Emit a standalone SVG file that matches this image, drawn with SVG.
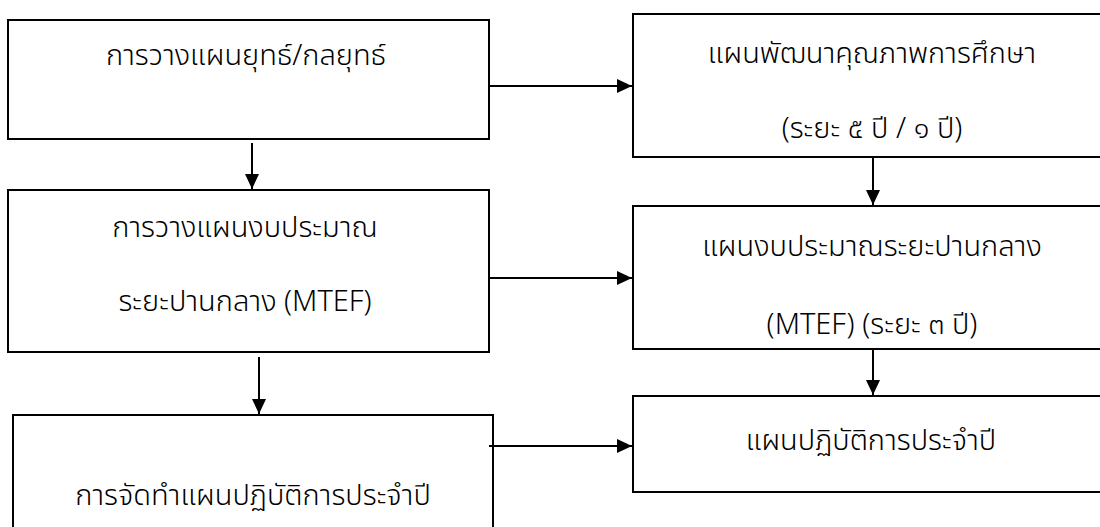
<svg xmlns="http://www.w3.org/2000/svg" width="1100" height="527" viewBox="0 0 1100 527">
<style>
.box{fill:#fff;stroke:#000;stroke-width:2}
.t{font-family:"Noto Sans Thai","Noto Sans","DejaVu Sans",sans-serif;font-size:29px;font-weight:300;fill:#000;text-anchor:middle}
.c{fill:none;stroke:#000;stroke-width:2}
</style>
<defs>
<marker id="ah" markerUnits="userSpaceOnUse" markerWidth="16" markerHeight="15" refX="15" refY="7" orient="auto">
<path d="M0,0 L15,7 L0,14 z" fill="#000"/>
</marker>
</defs>
<rect width="1100" height="527" fill="#fff"/>
<g id="n1"><rect class="box" x="8" y="20" width="481" height="119"/>
<text class="t" x="246" y="65">การวางแผนยุทธ์/กลยุทธ์</text></g>
<g id="n2"><rect class="box" x="633" y="14" width="480" height="143"/>
<text class="t" x="872" y="63">แผนพัฒนาคุณภาพการศึกษา</text>
<text class="t" x="872" y="138">(ระยะ ๕ ปี / ๑ ปี)</text></g>
<g id="n3"><rect class="box" x="8" y="190" width="481" height="162"/>
<text class="t" x="245" y="237">การวางแผนงบประมาณ</text>
<text class="t" x="245" y="311">ระยะปานกลาง (MTEF)</text></g>
<g id="n4"><rect class="box" x="633" y="206" width="480" height="143"/>
<text class="t" x="872" y="256">แผนงบประมาณระยะปานกลาง</text>
<text class="t" x="872" y="334">(MTEF) (ระยะ ๓ ปี)</text></g>
<g id="n5"><rect class="box" x="13" y="415" width="480" height="130"/>
<text class="t" x="253" y="505">การจัดทำแผนปฏิบัติการประจำปี</text></g>
<g id="n6"><rect class="box" x="633" y="396" width="480" height="96"/>
<text class="t" x="871" y="450">แผนปฏิบัติการประจำปี</text></g>
<g id="connectors">
<line class="c" x1="489" y1="86" x2="632" y2="86" marker-end="url(#ah)"/>
<line class="c" x1="252" y1="143" x2="252" y2="189" marker-end="url(#ah)"/>
<line class="c" x1="873" y1="157" x2="873" y2="205" marker-end="url(#ah)"/>
<line class="c" x1="489" y1="278" x2="632" y2="278" marker-end="url(#ah)"/>
<line class="c" x1="259" y1="357" x2="259" y2="414" marker-end="url(#ah)"/>
<line class="c" x1="873" y1="349" x2="873" y2="395" marker-end="url(#ah)"/>
<line class="c" x1="489" y1="446" x2="632" y2="446" marker-end="url(#ah)"/>
</g>
</svg>
